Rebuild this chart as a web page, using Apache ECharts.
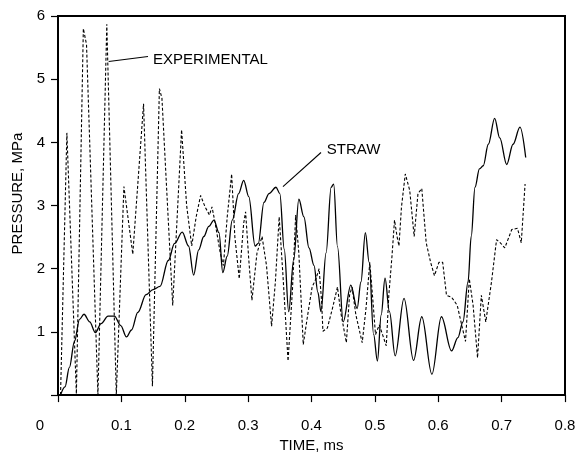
<!DOCTYPE html>
<html>
<head>
<meta charset="utf-8">
<script src="https://cdn.jsdelivr.net/npm/echarts@6/dist/echarts.min.js"></script>
<style>html,body{margin:0;padding:0;background:#fff}#c{width:580px;height:458px}</style>
</head>
<body>
<div id="c"></div>
<script>
// ---- data (time in ms, pressure in MPa) ----
var xTickLabels = ['0', '0.1', '0.2', '0.3', '0.4', '0.5', '0.6', '0.7', '0.8'];
var yTickLabels = ['', '1', '2', '3', '4', '5', '6'];

var strawTime = [0.004,0.011,0.018,0.026,0.034,0.041,0.050,0.059,0.068,0.079,0.089,0.099,0.108,0.116,0.126,0.139,0.150,0.161,0.174,0.184,0.196,0.206,0.214,0.222,0.230,0.238,0.246,0.254,0.260,0.267,0.275,0.285,0.293,0.301,0.311,0.316,0.325,0.333,0.344,0.350,0.357,0.364,0.372,0.380,0.388,0.396,0.404,0.410,0.415,0.423,0.431,0.435,0.441,0.450,0.462,0.472,0.478,0.485,0.491,0.498,0.504,0.510,0.516,0.523,0.532,0.546,0.561,0.574,0.590,0.605,0.621,0.631,0.639,0.647,0.652,0.658,0.665,0.671,0.679,0.689,0.697,0.708,0.718,0.729,0.738];
var strawPressure = [0,0.13,0.44,0.85,1.2,1.28,1.16,0.99,1.13,1.25,1.25,1.1,0.92,1.03,1.31,1.59,1.67,1.72,2.13,2.40,2.58,2.36,1.90,2.30,2.51,2.67,2.77,2.57,1.94,2.2,2.77,3.19,3.40,3.14,2.36,2.40,3.05,3.19,3.29,3.19,2.31,1.32,2.15,3.10,2.82,2.33,2.05,1.63,1.32,2.25,3.29,3.34,2.35,1.16,1.74,1.37,1.79,2.57,2.10,0.96,0.54,1.27,1.85,1.32,0.62,1.53,0.55,1.24,0.33,1.24,0.70,0.91,1.16,1.79,2.51,3.29,3.58,3.63,3.97,4.38,4.07,3.65,3.97,4.24,3.76];

var expTime = [0.004,0.014,0.029,0.040,0.045,0.063,0.077,0.092,0.104,0.118,0.135,0.149,0.160,0.164,0.181,0.195,0.203,0.211,0.218,0.225,0.232,0.239,0.243,0.248,0.256,0.261,0.267,0.274,0.279,0.286,0.293,0.296,0.301,0.306,0.314,0.322,0.329,0.337,0.343,0.349,0.355,0.363,0.370,0.375,0.380,0.387,0.394,0.401,0.407,0.412,0.416,0.418,0.425,0.433,0.441,0.446,0.455,0.460,0.464,0.470,0.480,0.486,0.492,0.497,0.501,0.507,0.512,0.518,0.522,0.527,0.531,0.535,0.538,0.542,0.548,0.555,0.562,0.568,0.574,0.581,0.588,0.594,0.601,0.607,0.613,0.621,0.630,0.637,0.643,0.649,0.655,0.662,0.668,0.675,0.684,0.692,0.698,0.705,0.716,0.725,0.731,0.737];
var expPressure = [0,4.15,0.02,5.80,5.55,0.0,5.87,0.0,3.30,2.23,4.61,0.14,4.85,4.7,1.42,4.2,3.0,2.36,2.82,3.16,2.98,2.85,2.98,2.72,2.25,2.05,2.82,3.50,2.51,1.84,2.72,2.90,2.15,1.50,2.25,2.51,2.05,1.09,1.79,2.82,1.89,0.54,1.68,2.85,2.25,0.80,1.27,1.71,1.84,2.0,1.48,1.01,1.06,1.37,1.71,1.32,0.83,1.58,1.71,1.27,0.83,1.37,2.10,1.48,0.96,1.11,0.96,0.78,1.58,2.20,2.77,2.51,2.36,2.98,3.50,3.24,2.51,3.19,3.27,2.41,2.10,1.89,2.10,2.10,1.58,1.55,1.42,1.11,0.85,1.84,1.42,0.59,1.58,1.16,1.79,2.46,2.41,2.33,2.62,2.64,2.41,3.34];

// annotation texts and anchor points (data coordinates)
var expLabel = 'EXPERIMENTAL';
var expLabelAt = [0.150, 5.31];
var expArrow = [[0.142, 5.36], [0.080, 5.28]];
var strawLabel = 'STRAW';
var strawLabelAt = [0.424, 3.88];
var strawArrow = [[0.415, 3.84], [0.355, 3.30]];

function zip(a, b) { return a.map(function (v, i) { return [v, b[i]]; }); }

var FONT = 'Liberation Sans';
var chart = echarts.init(document.getElementById('c'), null, { renderer: 'canvas' });

function arrowLine(pts) {
  return {
    silent: true,
    symbol: ['none', 'arrow'],
    symbolSize: [0, 7],
    label: { show: false },
    lineStyle: { color: '#000', width: 1.1, type: 'solid' },
    emphasis: { disabled: true },
    data: [[{ coord: pts[0] }, { coord: pts[1] }]]
  };
}
function textPoint(text, at) {
  return {
    silent: true,
    symbol: 'circle',
    symbolSize: 0,
    label: { show: true, position: 'right', distance: 0, formatter: text, color: '#000', fontFamily: FONT, fontSize: 15 },
    emphasis: { disabled: true },
    data: [{ coord: at }]
  };
}

chart.setOption({
  animation: false,
  backgroundColor: '#fff',
  grid: { left: 58, right: 15, top: 16, bottom: 57, show: true, borderColor: '#000', borderWidth: 2 },
  xAxis: {
    type: 'value', min: 0, max: 0.8, interval: 0.1,
    name: 'TIME, ms', nameLocation: 'middle', nameGap: 42,
    nameTextStyle: { color: '#000', fontFamily: FONT, fontSize: 15 },
    axisLine: { show: true, onZero: false, lineStyle: { color: '#000', width: 2 } },
    axisTick: { show: true, inside: false, length: 7, lineStyle: { color: '#000', width: 1.2 } },
    axisLabel: {
      margin: 23, color: '#000', fontFamily: FONT, fontSize: 15,
      formatter: function (v) {
        var s = xTickLabels[Math.round(v / 0.1)];
        return Math.round(v / 0.1) === 0 ? '{z|' + s + '}' : s;
      },
      rich: { z: { padding: [0, 36, 0, 0], color: '#000', fontFamily: FONT, fontSize: 15 } }
    },
    splitLine: { show: false }
  },
  yAxis: {
    type: 'value', min: 0, max: 6, interval: 1,
    name: 'PRESSURE, MPa', nameLocation: 'middle', nameGap: 33, nameRotate: 90,
    nameTextStyle: { color: '#000', fontFamily: FONT, fontSize: 15, padding: [0, 0, 0, 24] },
    axisLine: { show: true, lineStyle: { color: '#000', width: 2 } },
    axisTick: { show: true, inside: false, length: 7, lineStyle: { color: '#000', width: 1.2 } },
    axisLabel: {
      margin: 13, color: '#000', fontFamily: FONT, fontSize: 15,
      formatter: function (v) { return yTickLabels[Math.round(v)]; }
    },
    splitLine: { show: false }
  },
  series: [
    {
      name: 'EXPERIMENTAL', type: 'line', data: zip(expTime, expPressure),
      showSymbol: false, smooth: false, clip: true,
      lineStyle: { color: '#000', width: 1.1, type: [3, 2] },
      markLine: arrowLine(expArrow),
      markPoint: textPoint(expLabel, expLabelAt),
      z: 2
    },
    {
      name: 'STRAW', type: 'line', data: zip(strawTime, strawPressure),
      showSymbol: false, smooth: 0.35, smoothMonotone: 'x', clip: true,
      lineStyle: { color: '#000', width: 1.3, type: 'solid' },
      markLine: arrowLine(strawArrow),
      markPoint: textPoint(strawLabel, strawLabelAt),
      z: 3
    }
  ]
});
</script>
</body>
</html>
